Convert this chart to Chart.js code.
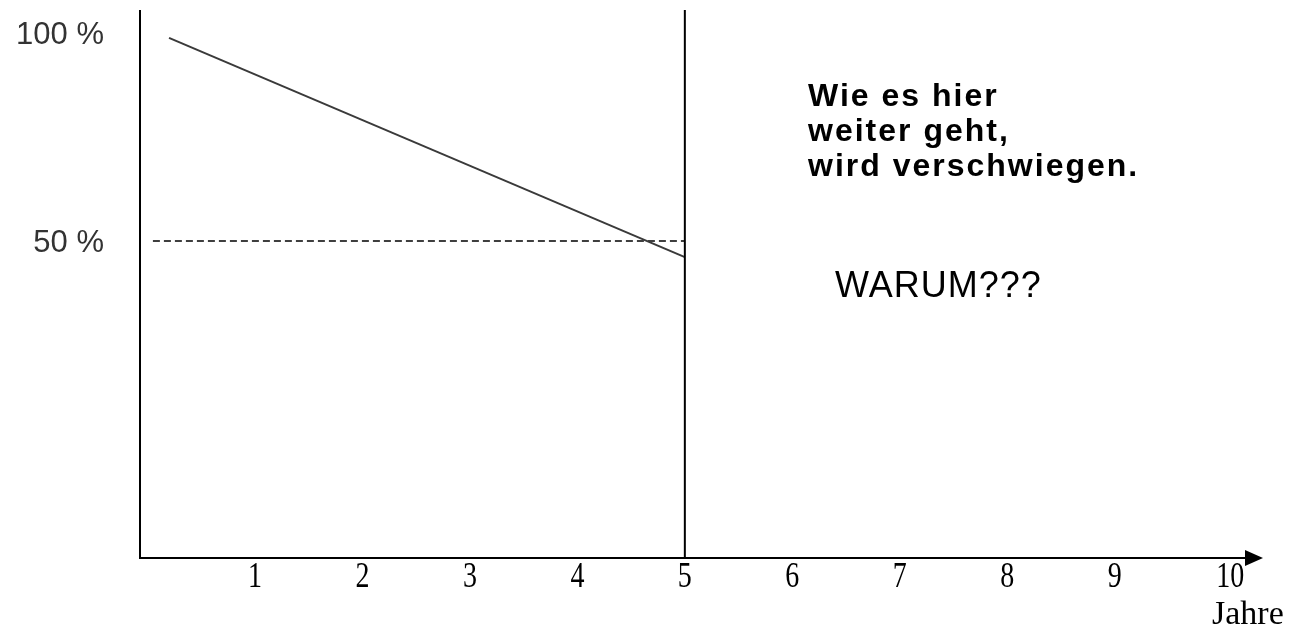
<!DOCTYPE html>
<html>
<head>
<meta charset="utf-8">
<script src="https://cdn.jsdelivr.net/npm/chart.js@4"></script>
<style>
  html, body { margin: 0; padding: 0; background: #fff; }
  canvas { display: block; }
</style>
</head>
<body>
<canvas id="chart" width="1294" height="629"></canvas>
<script>
// values
const yearTicks = [1, 2, 3, 4, 5, 6, 7, 8, 9, 10];
const declineYears = [0.2, 5];
const declinePercent = [98.8, 46.1];
const halfYears = [0.05, 5];
const halfPercent = [50, 50];
const markerYear = 5;
const yLabelValues = [100, 50];
const yLabelTexts = ["100 %", "50 %"];
const noteLines = ["Wie es hier", "weiter geht,", "wird verschwiegen."];
const questionText = "WARUM???";
const xTitle = "Jahre";

function toPoints(xs, ys){
    return xs.map(function(x, i){ return { x: x, y: ys[i] }; });
}

const sketchPlugin = {
    id: "sketch",
    afterDraw: function(chart){
        const ctx = chart.ctx;
        const area = chart.chartArea;
        const xs = chart.scales.x;
        const ys = chart.scales.y;
        ctx.save();

        // axes
        ctx.strokeStyle = "#000";
        ctx.lineWidth = 2;
        ctx.beginPath();
        ctx.moveTo(area.left, area.top);
        ctx.lineTo(area.left, area.bottom);
        ctx.lineTo(area.right - 16, area.bottom);
        ctx.stroke();
        ctx.fillStyle = "#000";
        ctx.beginPath();
        ctx.moveTo(area.right, area.bottom);
        ctx.lineTo(area.right - 18, area.bottom - 8);
        ctx.lineTo(area.right - 18, area.bottom + 8);
        ctx.closePath();
        ctx.fill();

        // vertical marker
        const mx = xs.getPixelForValue(markerYear);
        ctx.beginPath();
        ctx.moveTo(mx, area.top);
        ctx.lineTo(mx, area.bottom);
        ctx.stroke();

        // x tick labels (tall, narrow serif digits)
        ctx.font = "35px 'Liberation Serif'";
        ctx.textAlign = "center";
        ctx.textBaseline = "alphabetic";
        yearTicks.forEach(function(v){
            const px = xs.getPixelForValue(v) + (v === 10 ? 8 : 0);
            ctx.save();
            ctx.translate(px, area.bottom + 29);
            ctx.scale(0.8, 1);
            ctx.fillText(String(v), 0, 0);
            ctx.restore();
        });
        ctx.font = "34px 'Liberation Serif'";
        ctx.textAlign = "left";
        ctx.fillText(xTitle, 1212, 624);

        // y labels
        ctx.font = "31px 'Liberation Sans'";
        ctx.fillStyle = "#333";
        ctx.textAlign = "right";
        yLabelValues.forEach(function(v, i){
            ctx.fillText(yLabelTexts[i], 104, ys.getPixelForValue(v) + 11);
        });

        // notes
        ctx.fillStyle = "#000";
        ctx.textAlign = "left";
        ctx.font = "bold 32px 'Liberation Sans'";
        ctx.letterSpacing = "2px";
        noteLines.forEach(function(line, i){
            ctx.fillText(line, 808, 106 + i * 35);
        });
        ctx.font = "36px 'Liberation Sans'";
        ctx.letterSpacing = "1px";
        ctx.fillText(questionText, 835, 297);

        ctx.restore();
    }
};

const config = {
    type: "line",
    data: {
        datasets: [{
            label: "Anteil",
            data: toPoints(declineYears, declinePercent),
            borderColor: "#3a3a3a",
            borderWidth: 2,
            pointRadius: 0,
            tension: 0
        }, {
            label: "50 %",
            data: toPoints(halfYears, halfPercent),
            borderColor: "#000",
            borderWidth: 1.5,
            borderDash: [7, 4],
            pointRadius: 0
        }]
    },
    options: {
        responsive: false,
        animation: false,
        layout: {
            padding: { left: 140, right: 31, top: 10, bottom: 71 }
        },
        plugins: {
            legend: { display: false },
            tooltip: { enabled: false }
        },
        scales: {
            x: { type: "linear", min: -0.07, max: 10.38, display: false },
            y: { type: "linear", min: -26.2, max: 105.5, display: false }
        }
    },
    plugins: [sketchPlugin]
};

new Chart(document.getElementById("chart"), config);
</script>
</body>
</html>
